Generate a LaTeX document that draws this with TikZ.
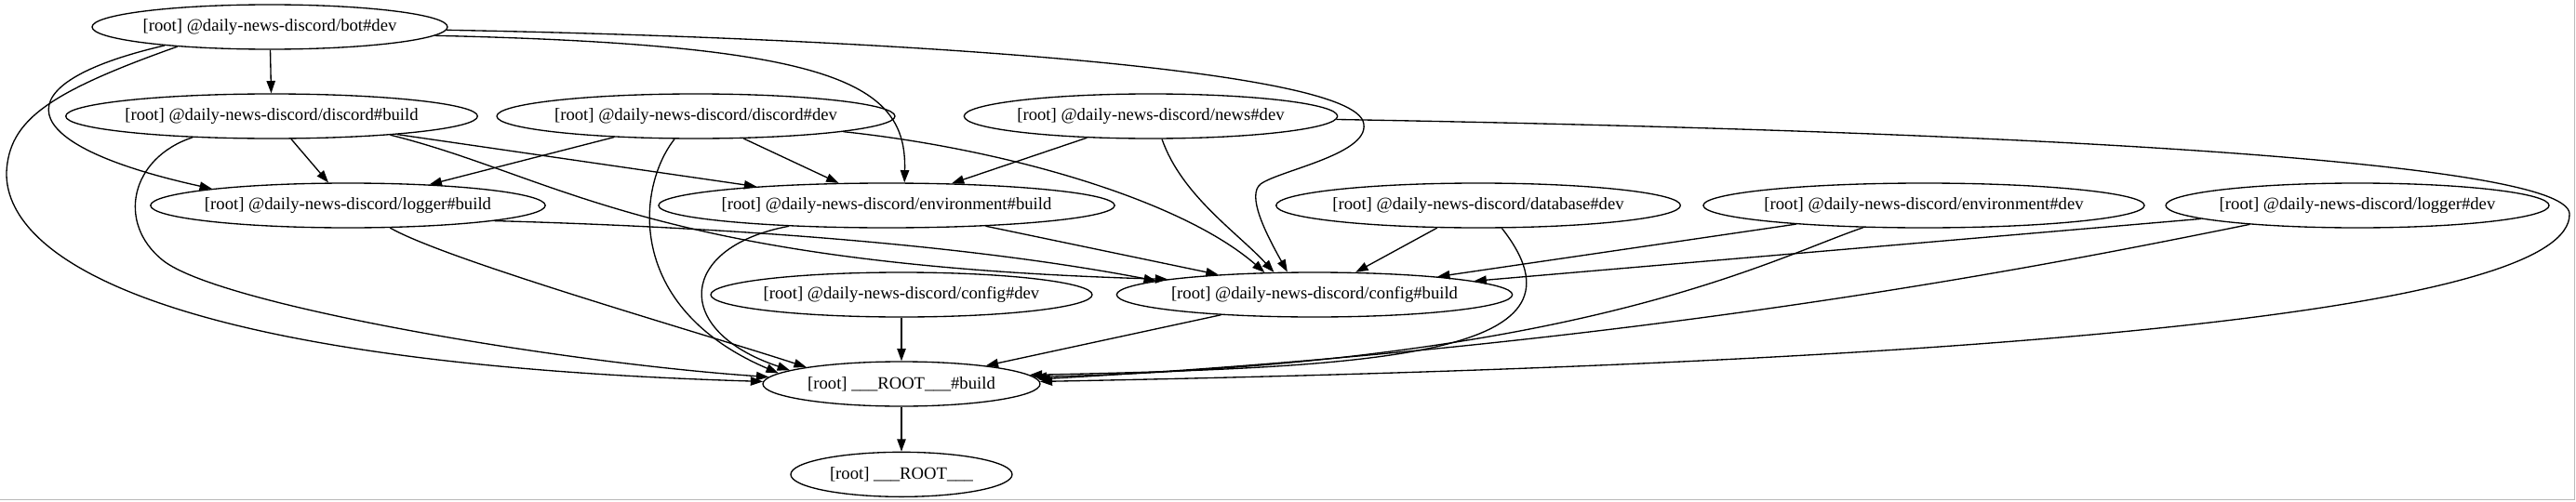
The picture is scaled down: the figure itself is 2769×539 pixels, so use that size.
\documentclass[tikz,border=0pt]{standalone}
\usepackage{fontspec}
\setmainfont{Liberation Serif}
\usepackage{tikz}
\usetikzlibrary{arrows.meta, positioning, shapes.geometric}

\begin{document}
\begin{tikzpicture}[
  x=0.75pt, y=-0.75pt,
  dep/.style={ellipse, draw, line width=1pt, minimum height=36pt,
    inner xsep=-3pt, inner ysep=0pt, font=\fontsize{14}{16}\selectfont},
  arrow/.style={-{Triangle[length=10pt, width=7pt]}, line width=1pt}
]
  \useasboundingbox (0,0) rectangle (2769,539);
  \draw[gray!55, line width=1.1pt] (0,537.5) -- (2767.5,537.5) -- (2767.5,0);

  \node[dep, minimum width=286.5pt] (bot) at (290,29) {[root] @daily-news-discord/bot\#dev};
  \node[dep, minimum width=332pt] (dbuild) at (292,125) {[root] @daily-news-discord/discord\#build};
  \node[dep, minimum width=321pt] (ddev) at (748,125) {[root] @daily-news-discord/discord\#dev};
  \node[dep, minimum width=301pt] (news) at (1237,125) {[root] @daily-news-discord/news\#dev};
  \node[dep, minimum width=316.5pt] (lbuild) at (374,221) {[root] @daily-news-discord/logger\#build};
  \node[dep, minimum width=363pt] (ebuild) at (953,221) {[root] @daily-news-discord/environment\#build};
  \node[dep, minimum width=326pt] (dbase) at (1589,221) {[root] @daily-news-discord/database\#dev};
  \node[dep, minimum width=352.5pt] (edev) at (2068,221) {[root] @daily-news-discord/environment\#dev};
  \node[dep, minimum width=309pt] (ldev) at (2534,221) {[root] @daily-news-discord/logger\#dev};
  \node[dep, minimum width=307.5pt] (cdev) at (969,317) {[root] @daily-news-discord/config\#dev};
  \node[dep, minimum width=319pt] (cbuild) at (1413,317) {[root] @daily-news-discord/config\#build};
  \node[dep, minimum width=223.5pt] (rbuild) at (969,413) {[root] \_\_\_ROOT\_\_\_\#build};
  \node[dep, minimum width=178.5pt, below=36pt of rbuild] (root) {[root] \_\_\_ROOT\_\_\_};

  \draw[arrow] (bot) -- (dbuild);
  \draw[arrow] (bot.190) .. controls (0,90) and (10,155) .. (lbuild.173);
  \draw[arrow] (bot.192) .. controls (50,100) and (10,130) .. (7,185)
    .. controls (5,270) and (150,390) .. (rbuild.179);
  \draw[arrow] (bot.357) .. controls (900,48) and (975,90) .. (ebuild.52);
  \draw[arrow] (bot.359) .. controls (900,40) and (1440,70) .. (1465,130)
    .. controls (1478,165) and (1375,183) .. (1355,198)
    .. controls (1340,210) and (1360,250) .. (cbuild.140);

  \draw[arrow] (dbuild) -- (lbuild);
  \draw[arrow] (dbuild) -- (ebuild);
  \draw[arrow] (dbuild.351) .. controls (600,190) and (700,285) .. (cbuild.174);
  \draw[arrow] (dbuild.195) .. controls (140,170) and (125,240) .. (175,280)
    .. controls (235,328) and (600,390) .. (rbuild.177);

  \draw[arrow] (ddev) -- (lbuild);
  \draw[arrow] (ddev) -- (ebuild);
  \draw[arrow] (ddev.354) .. controls (1080,160) and (1270,215) .. (cbuild.156);
  \draw[arrow] (ddev.227) .. controls (685,200) and (670,330) .. (rbuild.175);

  \draw[arrow] (news) -- (ebuild);
  \draw[arrow] (news.296) .. controls (1270,210) and (1330,250) .. (cbuild.151);
  \draw[arrow] (news.359) .. controls (2100,140) and (2760,170) .. (2762,230)
    .. controls (2764,330) and (2200,390) .. (rbuild.1);

  \draw[arrow] (lbuild.354) .. controls (800,245) and (1050,265) .. (cbuild.175);
  \draw[arrow] (lbuild.332) .. controls (480,280) and (760,360) .. (rbuild.170);
  \draw[arrow] (ebuild) -- (cbuild);
  \draw[arrow] (ebuild.192) .. controls (730,265) and (720,355) .. (rbuild.173);

  \draw[arrow] (dbase) -- (cbuild);
  \draw[arrow] (dbase.316) .. controls (1720,380) and (1500,395) .. (rbuild.4);
  \draw[arrow] (edev) -- (cbuild);
  \draw[arrow] (edev.200) .. controls (1900,280) and (1700,390) .. (rbuild.3);
  \draw[arrow] (ldev) -- (cbuild);
  \draw[arrow] (ldev.190) .. controls (2250,275) and (1800,370) .. (rbuild.2);

  \draw[arrow] (cdev) -- (rbuild);
  \draw[arrow] (cbuild) -- (rbuild);
  \draw[arrow] (rbuild) -- (root);
\end{tikzpicture}
\end{document}
